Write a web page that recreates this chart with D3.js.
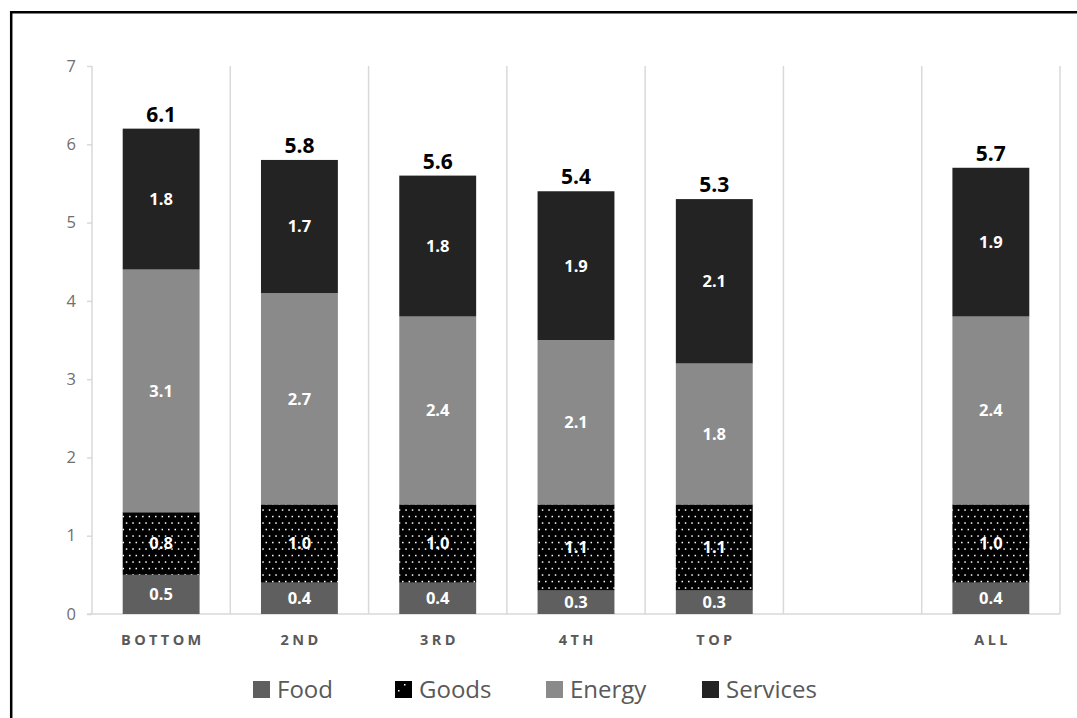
<!DOCTYPE html>
<html>
<head>
<meta charset="utf-8">
<script src="https://cdn.jsdelivr.net/npm/d3@7"></script>
<style>
  html, body { margin: 0; padding: 0; background: #fff; }
  svg { display: block; font-family: "Open Sans", "Noto Sans", sans-serif; }
</style>
</head>
<body>
<svg id="chart" width="1077" height="718"></svg>
<script>
// ---- data ----
const categories = ["BOTTOM", "2ND", "3RD", "4TH", "TOP", "", "ALL"];
const seriesNames = ["Food", "Goods", "Energy", "Services"];
const food     = [0.5, 0.4, 0.4, 0.3, 0.3, null, 0.4];
const goods    = [0.8, 1.0, 1.0, 1.1, 1.1, null, 1.0];
const energy   = [3.1, 2.7, 2.4, 2.1, 1.8, null, 2.4];
const services = [1.8, 1.7, 1.8, 1.9, 2.1, null, 1.9];
const totals   = [6.1, 5.8, 5.6, 5.4, 5.3, null, 5.7];
const yTicks = [0, 1, 2, 3, 4, 5, 6, 7];

(function () {
const seriesValues = [food, goods, energy, services];
const colors = ["#5f5f5f", "url(#dots)", "#8a8a8a", "#232323"];
const legendColors = ["#5f5f5f", "url(#dotsLegend)", "#8a8a8a", "#232323"];

const svg = d3.select("#chart");

// patterns
const defs = svg.append("defs");
const pat = defs.append("pattern").attr("id", "dots").attr("patternUnits", "userSpaceOnUse")
  .attr("width", 13).attr("height", 13);
pat.append("rect").attr("width", 13).attr("height", 13).attr("fill", "#000");
[[3, 3], [9.5, 3], [6.25, 9.5], [12.75, 9.5], [-0.25, 9.5]].forEach(([cx, cy]) =>
  pat.append("rect").attr("x", cx - 0.7).attr("y", cy - 0.7).attr("width", 1.5).attr("height", 1.5).attr("fill", "#fff"));
const pat2 = defs.append("pattern").attr("id", "dotsLegend").attr("patternUnits", "userSpaceOnUse")
  .attr("width", 17).attr("height", 17);
pat2.append("rect").attr("width", 17).attr("height", 17).attr("fill", "#000");
pat2.append("rect").attr("x", 7).attr("y", 10).attr("width", 1.5).attr("height", 1.5).attr("fill", "#fff");
pat2.append("rect").attr("x", 13).attr("y", 4).attr("width", 1.5).attr("height", 1.5).attr("fill", "#fff");

// border
svg.append("path").attr("d", "M11.2,718 V12.2 H1077")
  .attr("fill", "none").attr("stroke", "#000").attr("stroke-width", 2.5);

// scales
const x = d3.scaleBand().domain(categories).range([92, 1060]).padding(0);
const y = d3.scaleLinear().domain([0, 7]).range([614, 66]);
const barW = x.bandwidth() * 0.556;

const grid = "#d9d9d9";
// vertical gridlines (band boundaries)
const bounds = categories.map(c => x(c)).concat([x.range()[1]]);
svg.append("g").selectAll("line").data(bounds).join("line")
  .attr("x1", d => d).attr("x2", d => d)
  .attr("y1", y(7)).attr("y2", y(0))
  .attr("stroke", grid).attr("stroke-width", 1.5);

// y axis ticks and labels
const yAxis = d3.axisLeft(y).tickValues(yTicks).tickSize(5).tickPadding(10).tickFormat(d3.format("d"));
const yg = svg.append("g").attr("transform", `translate(${x.range()[0]},0)`).call(yAxis);
yg.select(".domain").remove();
yg.selectAll(".tick line").attr("stroke", grid).attr("stroke-width", 1.5);
yg.selectAll(".tick text").attr("fill", "#6f6f6f").attr("font-size", 16.5)
  .attr("font-family", "'Open Sans', sans-serif").attr("dx", -1);

// baseline
svg.append("line").attr("x1", x.range()[0] - 5).attr("x2", x.range()[1])
  .attr("y1", y(0)).attr("y2", y(0)).attr("stroke", grid).attr("stroke-width", 1.5);

// stacked bars
const rows = categories.map((c, i) => {
  const o = { cat: c };
  seriesNames.forEach((s, j) => o[s] = seriesValues[j][i] || 0);
  return o;
});
const stack = d3.stack().keys(seriesNames)(rows);
const barsG = svg.append("g");
stack.forEach((layer, j) => {
  const g = barsG.append("g");
  layer.forEach((d, i) => {
    if (seriesValues[j][i] == null) return;
    const cx = x(categories[i]) + x.bandwidth() / 2;
    g.append("rect")
      .attr("x", cx - barW / 2).attr("width", barW)
      .attr("y", y(d[1])).attr("height", y(d[0]) - y(d[1]))
      .attr("fill", colors[j]);
    g.append("text")
      .attr("x", cx).attr("y", (y(d[0]) + y(d[1])) / 2)
      .attr("dy", "0.36em").attr("text-anchor", "middle")
      .attr("fill", "#fff").attr("font-weight", "bold").attr("font-size", 16.5)
      .text(d3.format(".1f")(seriesValues[j][i]));
  });
});

// totals
const topLayer = stack[stack.length - 1];
categories.forEach((c, i) => {
  if (totals[i] == null) return;
  svg.append("text")
    .attr("x", x(c) + x.bandwidth() / 2).attr("y", y(topLayer[i][1]) - 7)
    .attr("text-anchor", "middle").attr("font-weight", "bold").attr("font-size", 21)
    .attr("fill", "#000").text(d3.format(".1f")(totals[i]));
});

// category labels
const ls = 3.4;
svg.append("g").selectAll("text").data(categories).join("text")
  .attr("x", d => x(d) + x.bandwidth() / 2 + ls / 2)
  .attr("y", 645).attr("text-anchor", "middle")
  .attr("font-size", 14.5).attr("font-weight", "bold").attr("letter-spacing", ls)
  .attr("fill", "#595959").text(d => d);

// legend
const legendX = [253, 395, 546, 702];
const lg = svg.append("g");
seriesNames.forEach((s, j) => {
  lg.append("rect").attr("x", legendX[j]).attr("y", 681).attr("width", 17).attr("height", 17)
    .attr("fill", legendColors[j]);
  lg.append("text").attr("x", legendX[j] + 24).attr("y", 698)
    .attr("font-size", 24).attr("fill", "#595959").text(s);
});
})();
</script>
</body>
</html>
